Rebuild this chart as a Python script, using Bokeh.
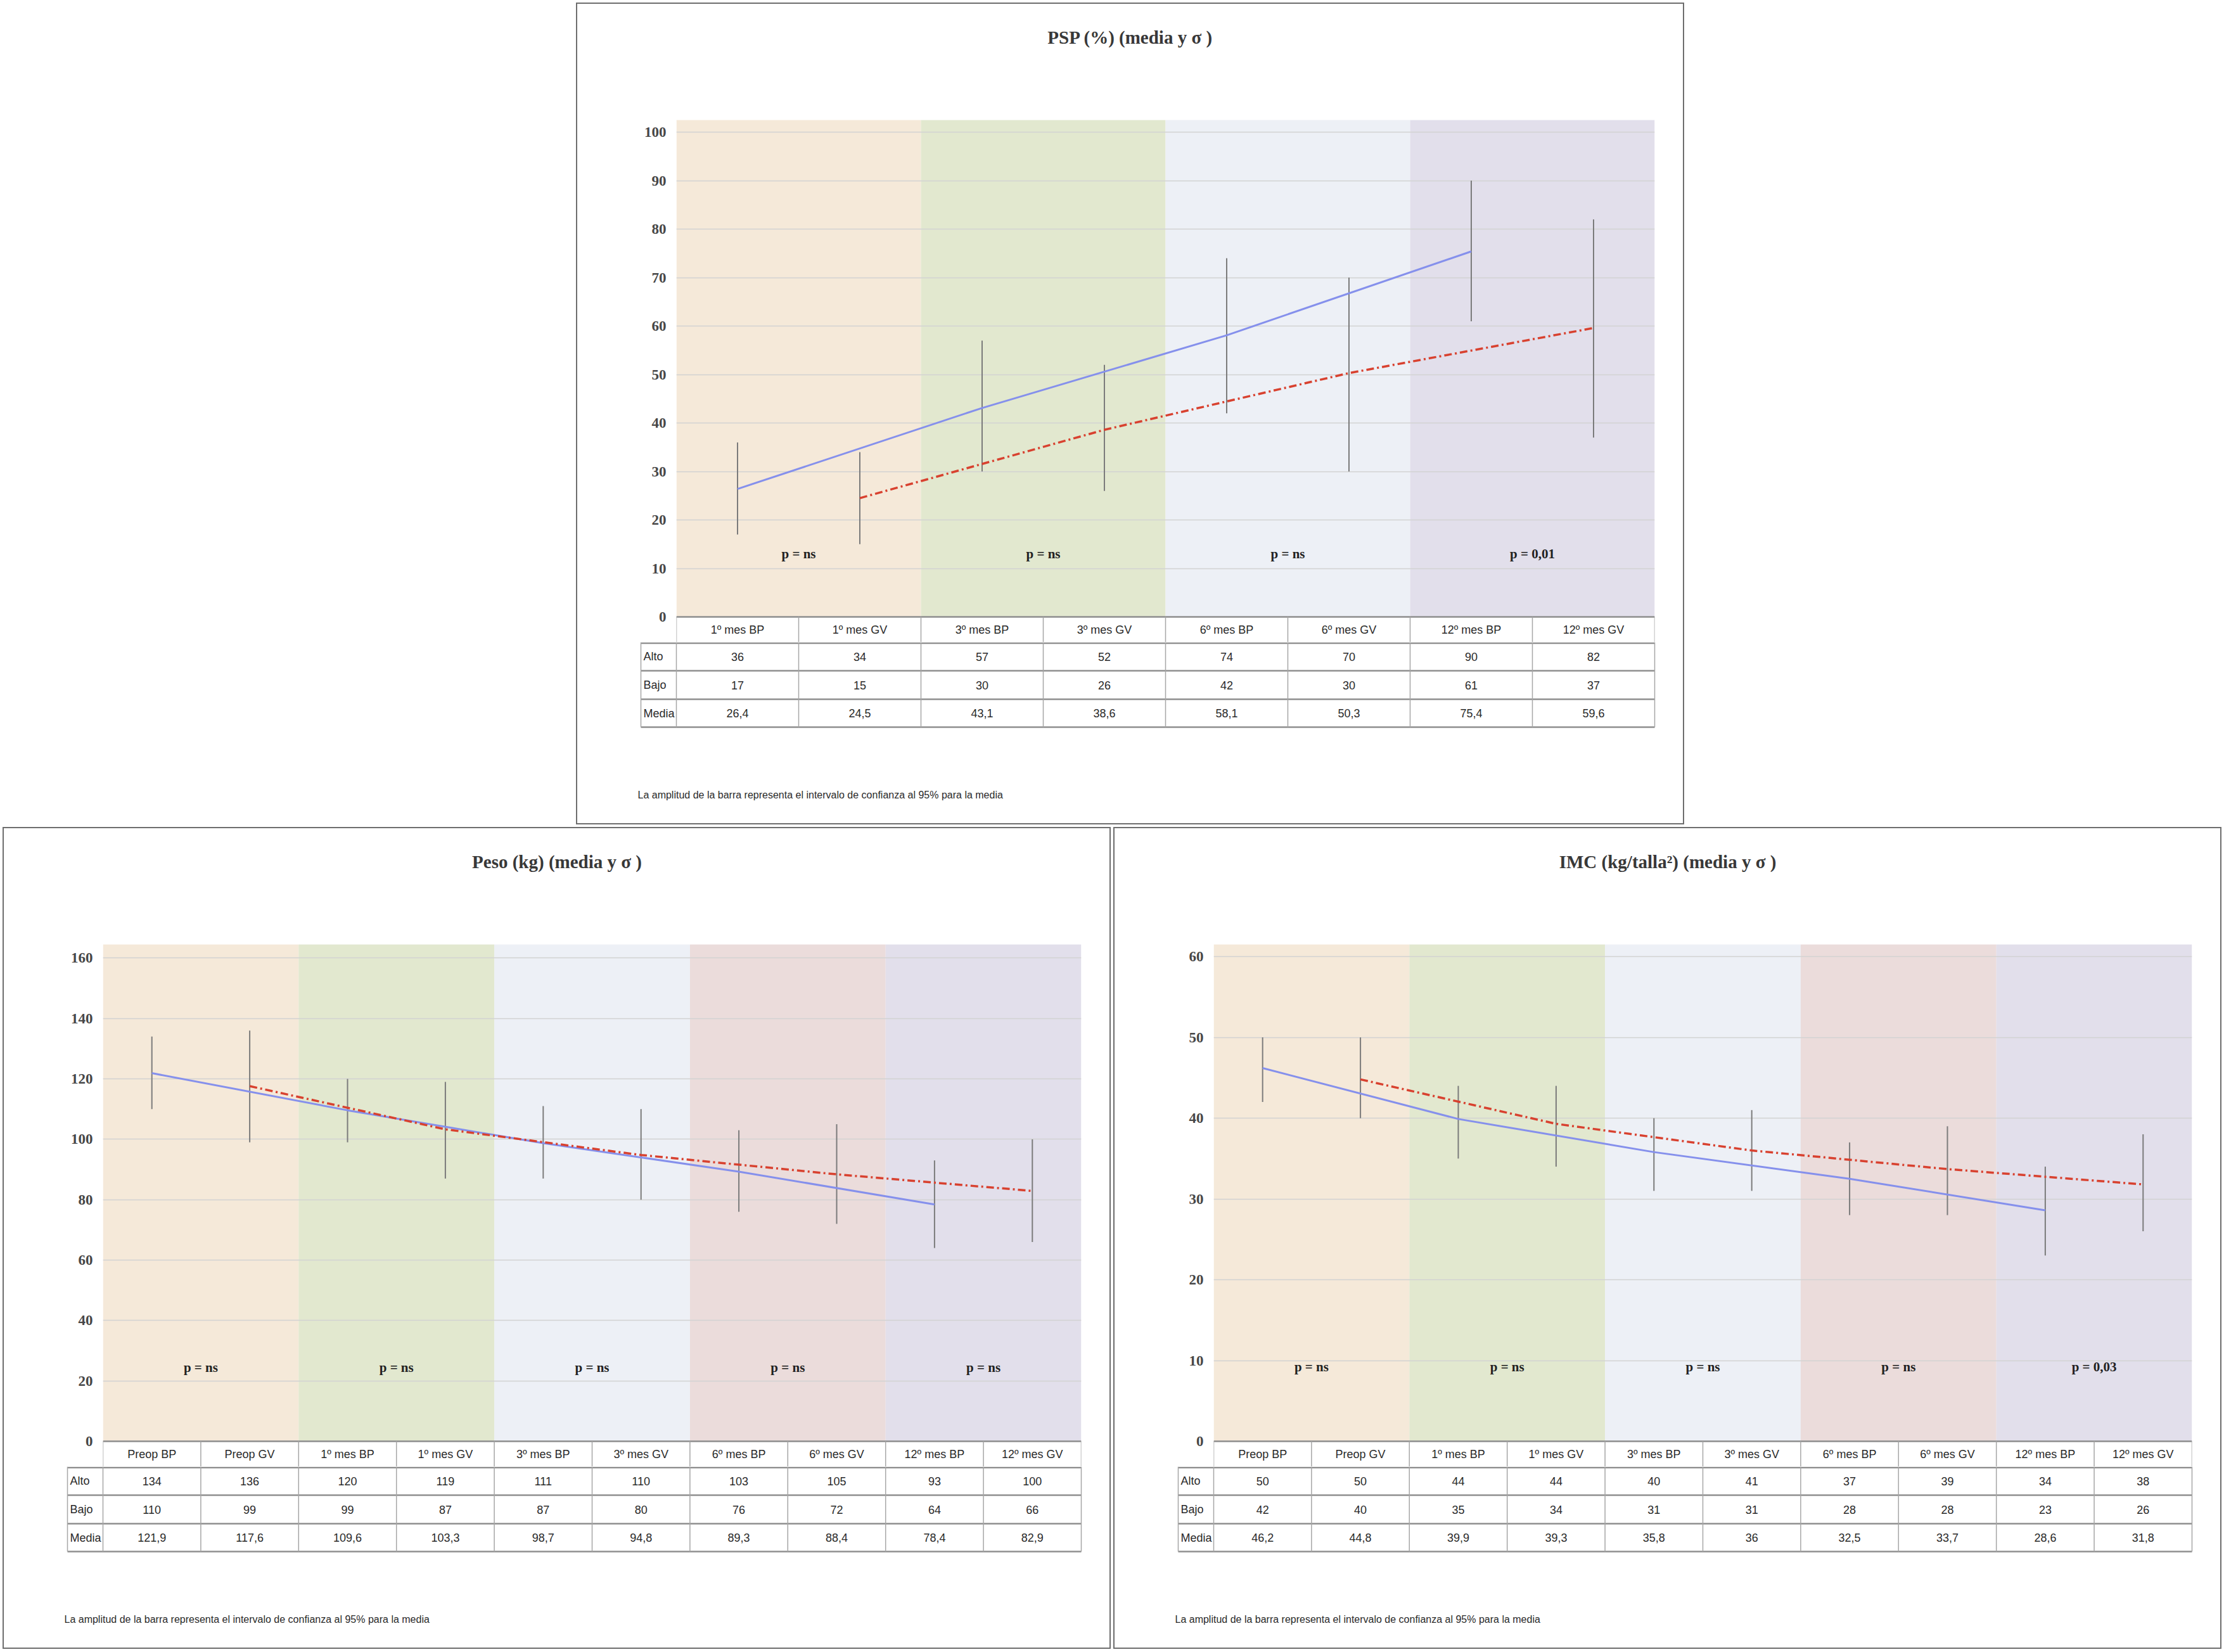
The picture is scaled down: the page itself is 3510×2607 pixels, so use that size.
from bokeh.plotting import figure
from bokeh.models import Range1d, FixedTicker, Spacer
from bokeh.layouts import column, row
from bokeh.embed import file_html
from bokeh.resources import INLINE
from bokeh.core.properties import value

# ---------------- data ----------------
psp_title = "PSP (%) (media y σ )"
psp_cats = ["1º mes BP", "1º mes GV", "3º mes BP", "3º mes GV",
            "6º mes BP", "6º mes GV", "12º mes BP", "12º mes GV"]
psp_alto = [36, 34, 57, 52, 74, 70, 90, 82]
psp_bajo = [17, 15, 30, 26, 42, 30, 61, 37]
psp_media = [26.4, 24.5, 43.1, 38.6, 58.1, 50.3, 75.4, 59.6]
psp_ticks = [0, 10, 20, 30, 40, 50, 60, 70, 80, 90, 100]
psp_p = ["p = ns", "p = ns", "p = ns", "p = 0,01"]

peso_title = "Peso (kg) (media y σ )"
peso_cats = ["Preop BP", "Preop GV", "1º mes BP", "1º mes GV", "3º mes BP",
             "3º mes GV", "6º mes BP", "6º mes GV", "12º mes BP", "12º mes GV"]
peso_alto = [134, 136, 120, 119, 111, 110, 103, 105, 93, 100]
peso_bajo = [110, 99, 99, 87, 87, 80, 76, 72, 64, 66]
peso_media = [121.9, 117.6, 109.6, 103.3, 98.7, 94.8, 89.3, 88.4, 78.4, 82.9]
peso_ticks = [0, 20, 40, 60, 80, 100, 120, 140, 160]
peso_p = ["p = ns", "p = ns", "p = ns", "p = ns", "p = ns"]

imc_title = "IMC (kg/talla²) (media y σ )"
imc_cats = peso_cats
imc_alto = [50, 50, 44, 44, 40, 41, 37, 39, 34, 38]
imc_bajo = [42, 40, 35, 34, 31, 31, 28, 28, 23, 26]
imc_media = [46.2, 44.8, 39.9, 39.3, 35.8, 36, 32.5, 33.7, 28.6, 31.8]
imc_ticks = [0, 10, 20, 30, 40, 50, 60]
imc_p = ["p = ns", "p = ns", "p = ns", "p = ns", "p = 0,03"]

row_labels = ["Alto", "Bajo", "Media"]
footnote = "La amplitud de la barra representa el intervalo de confianza al 95% para la media"

# ---------------- styles ----------------
BAND4 = ["#f5e9d9", "#e2e8cf", "#edf0f6", "#e2dfeb"]
BAND5 = ["#f5e9d9", "#e2e8cf", "#edf0f6", "#ebdcdb", "#e2dfeb"]
BLUE = "#8590ec"
RED = "#d8412f"
BAR = "#7b7b7b"
GRID = "#d2d2d2"
TBL = "#8f8f8f"
TBL_V = "#a6a6a6"
SERIF = "Liberation Serif"
SANS = "Liberation Sans"

BORDER = 2
PANEL_W, PANEL_H = 1749, 1297
IW, IH = PANEL_W - 2 * BORDER, PANEL_H - 2 * BORDER
PL = 156          # plot-area left (inside border)
PW = 1544         # plot-area width
FT = 183          # plot-area top
BAND_H = 784      # plot-area height (value 0 at its bottom)
HDR = 40          # header row height
TITLE_Y = 52
ROWS = [(0, 45), (45, 90), (90, 134)]
FOOT_Y = 241
LBL_PX = 100      # left of row-label column
FOOT_PX = 95


def fmt(v):
    s = str(int(v)) if float(v).is_integer() else f"{v:.1f}"
    return s.replace(".", ",")


def no_align(p):
    try:
        p.frame_align = False
    except Exception:
        pass


def make_panel(title, cats, alto, bajo, media, ticks, ptexts, p_y, top, bands):
    n = len(cats)
    k = BAND_H / top
    colw = PW / n
    xc = [i + 0.5 for i in range(n)]
    ha = FT + BAND_H + HDR
    fa = figure(width=IW, height=ha,
                x_range=Range1d(0, n), y_range=Range1d(-HDR / k, top + FT / k),
                min_border_left=PL, min_border_right=IW - PL - PW,
                min_border_top=0, min_border_bottom=0,
                x_axis_location=None, toolbar_location=None,
                output_backend="svg", background_fill_color="white",
                border_fill_color="white")
    no_align(fa)
    fa.extra_y_ranges = {"px": Range1d(ha, 0)}
    fa.outline_line_color = None
    fa.xgrid.visible = False
    fa.ygrid.ticker = FixedTicker(ticks=ticks)
    fa.ygrid.grid_line_color = GRID
    fa.ygrid.grid_line_width = 1.5
    ax = fa.yaxis[0]
    ax.ticker = FixedTicker(ticks=ticks)
    ax.axis_line_color = None
    ax.major_tick_line_color = None
    ax.minor_tick_line_color = None
    ax.major_label_standoff = 10
    ax.major_label_text_font = SERIF
    ax.major_label_text_font_style = "bold"
    ax.major_label_text_font_size = "23px"
    ax.major_label_text_color = "#474747"

    # chart title, centred on the panel
    fa.text(x=[(IW / 2 - PL) / colw], y=[TITLE_Y], text=[title], y_range_name="px",
            text_font=value(SERIF), text_font_style="bold", text_font_size="29px",
            text_color="#383838", text_align="center", text_baseline="middle")

    # background bands, two categories each
    nb = len(bands)
    fa.quad(left=[2 * j for j in range(nb)], right=[2 * j + 2 for j in range(nb)],
            bottom=0, top=top, fill_color=bands, line_color=None, level="image")

    # error bars
    fa.segment(x0=xc, y0=bajo, x1=xc, y1=alto, line_color=BAR, line_width=2)

    bp = list(range(0, n, 2))
    gv = list(range(1, n, 2))
    fa.line([xc[i] for i in bp], [media[i] for i in bp], line_color=BLUE, line_width=3)
    fa.line([xc[i] for i in gv], [media[i] for i in gv], line_color=RED, line_width=3.5,
            line_dash="12 5 3 5")

    fa.text(x=[2 * j + 1 for j in range(nb)], y=[p_y] * nb, text=ptexts,
            text_font=value(SERIF), text_font_style="bold", text_font_size="21px",
            text_color="#222222", text_align="center", text_baseline="middle")

    # header row of the table
    y0 = FT + BAND_H
    fa.segment(x0=[0], y0=[y0], x1=[n], y1=[y0], y_range_name="px",
               line_color=TBL, line_width=2.5)
    fa.segment(x0=list(range(n + 1)), y0=[y0] * (n + 1), x1=list(range(n + 1)),
               y1=[ha] * (n + 1), y_range_name="px", line_color=TBL_V,
               line_width=1.5)
    fa.text(x=xc, y=[y0 + HDR / 2] * n, text=cats, y_range_name="px",
            text_font=value(SANS), text_font_size="18px", text_color="#2a2a2a",
            text_align="center", text_baseline="middle")

    # lower part of the table + footnote
    hb = IH - ha
    fb = figure(width=IW, height=hb,
                x_range=Range1d(-PL / colw, (IW - PL) / colw), y_range=Range1d(hb, 0),
                min_border=0, x_axis_location=None, y_axis_location=None,
                toolbar_location=None, output_backend="svg")
    no_align(fb)
    fb.outline_line_color = None
    fb.grid.visible = False
    lbl = (LBL_PX - PL) / colw
    hy = [1.5] + [r[1] for r in ROWS]
    fb.segment(x0=[lbl] * len(hy), y0=hy, x1=[n] * len(hy), y1=hy,
               line_color=TBL, line_width=2.5)
    vx = [lbl] + list(range(n + 1))
    fb.segment(x0=vx, y0=[0] * len(vx), x1=vx, y1=[ROWS[-1][1]] * len(vx),
               line_color=TBL_V, line_width=1.5)
    ycent = [(a + b) / 2 for a, b in ROWS]
    fb.text(x=[lbl + 4 / colw] * 3, y=ycent, text=row_labels,
            text_font=value(SANS), text_font_size="18px", text_color="#2a2a2a",
            text_align="left", text_baseline="middle")
    for vals, yc in zip([alto, bajo, media], ycent):
        fb.text(x=xc, y=[yc] * n, text=[fmt(v) for v in vals],
                text_font=value(SANS), text_font_size="18px", text_color="#2a2a2a",
                text_align="center", text_baseline="middle")
    fb.text(x=[(FOOT_PX - PL) / colw], y=[FOOT_Y], text=[footnote],
            text_font=value(SANS), text_font_size="16px", text_color="#2a2a2a",
            text_align="left", text_baseline="middle")

    return column(fa, fb, styles={"border": f"{BORDER}px solid #6e6e6e"})


top_panel = make_panel(psp_title, psp_cats, psp_alto, psp_bajo, psp_media,
                       psp_ticks, psp_p, 13.0, 102.5, BAND4)
peso_panel = make_panel(peso_title, peso_cats, peso_alto, peso_bajo, peso_media,
                        peso_ticks, peso_p, 24.5, 164.5, BAND5)
imc_panel = make_panel(imc_title, imc_cats, imc_alto, imc_bajo, imc_media,
                       imc_ticks, imc_p, 9.2, 61.5, BAND5)

layout = row(Spacer(width=4, height=4),
             column(Spacer(width=4, height=4),
                    row(Spacer(width=905, height=PANEL_H), top_panel),
                    Spacer(width=4, height=4),
                    row(peso_panel, Spacer(width=4, height=PANEL_H), imc_panel)))

open("out.html", "w").write(file_html(layout, INLINE))
